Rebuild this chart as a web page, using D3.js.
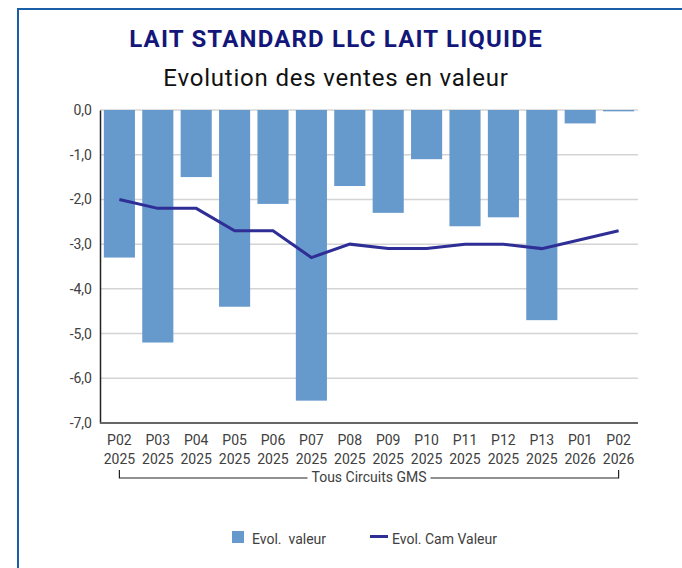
<!DOCTYPE html>
<html>
<head>
<meta charset="utf-8">
<script src="https://cdn.jsdelivr.net/npm/d3@7"></script>
<style>
  body { margin: 0; background: #fff; }
  svg { display: block; }
</style>
</head>
<body>
<svg id="chart" width="682" height="568"></svg>
<script>
var periods = ["P02", "P03", "P04", "P05", "P06", "P07", "P08", "P09", "P10", "P11", "P12", "P13", "P01", "P02"];
var years = ["2025", "2025", "2025", "2025", "2025", "2025", "2025", "2025", "2025", "2025", "2025", "2025", "2026", "2026"];
var evolValeur = [-3.3, -5.2, -1.5, -4.4, -2.1, -6.5, -1.7, -2.3, -1.1, -2.6, -2.4, -4.7, -0.3, -0.03];
var evolCam = [-2.0, -2.2, -2.2, -2.7, -2.7, -3.3, -3.0, -3.1, -3.1, -3.0, -3.0, -3.1, -2.9, -2.7];
var yTicks = [0, -1, -2, -3, -4, -5, -6, -7];

var font = "Roboto, 'Noto Sans', sans-serif";
var barColor = "#6699cc";
var lineColor = "#2e2e96";

var svg = d3.select("#chart");
var keys = d3.range(periods.length);

var x = d3.scaleBand().domain(keys).range([100, 638]).paddingInner(0.19).paddingOuter(0.1);
var y = d3.scaleLinear().domain([-7, 0]).range([423, 110]);

// frame
svg.append("line").attr("x1", 18).attr("x2", 682).attr("y1", 9).attr("y2", 9)
    .attr("stroke", "#1a5ea8").attr("stroke-width", 2);
svg.append("line").attr("x1", 18).attr("x2", 18).attr("y1", 8).attr("y2", 568)
    .attr("stroke", "#1a5ea8").attr("stroke-width", 2);

// titles
svg.append("text").attr("x", 336).attr("y", 47).attr("text-anchor", "middle")
    .attr("font-family", font)
    .attr("font-weight", "bold").attr("font-size", 24).attr("letter-spacing", 1.2).attr("fill", "#14177a")
    .text("LAIT STANDARD LLC LAIT LIQUIDE");
svg.append("text").attr("x", 336).attr("y", 86).attr("text-anchor", "middle")
    .attr("font-family", font).attr("font-size", 24).attr("letter-spacing", 0.8).attr("fill", "#111")
    .text("Evolution des ventes en valeur");

// grid
svg.append("g").selectAll("line").data(yTicks.filter(function (d) { return d > -7; })).join("line")
    .attr("x1", 100).attr("x2", 638)
    .attr("y1", function (d) { return y(d); }).attr("y2", function (d) { return y(d); })
    .attr("stroke", "#d4d4d4").attr("stroke-width", 1.5);

// y axis
var fmt = function (d) { return d3.format(".1f")(d).replace(".", ",").replace("−", "-"); };
var yAxis = svg.append("g").attr("transform", "translate(100,0)")
    .call(d3.axisLeft(y).tickValues(yTicks).tickFormat(fmt).tickSize(0).tickPadding(8));
yAxis.select(".domain").attr("stroke", "#222").attr("stroke-width", 1.5);
yAxis.selectAll("text").attr("font-family", font).attr("font-size", 14).attr("fill", "#404040");

// bars
svg.append("g").selectAll("rect").data(evolValeur).join("rect")
    .attr("x", function (d, i) { return x(i); })
    .attr("width", x.bandwidth())
    .attr("y", y(0))
    .attr("height", function (d) { return y(d) - y(0); })
    .attr("fill", barColor);

// x axis line
svg.append("line").attr("x1", 100).attr("x2", 638).attr("y1", y(-7)).attr("y2", y(-7))
    .attr("stroke", "#666").attr("stroke-width", 2);

// line
var line = d3.line()
    .x(function (d, i) { return x(i) + x.bandwidth() / 2; })
    .y(function (d) { return y(d); });
svg.append("path").datum(evolCam).attr("d", line)
    .attr("fill", "none").attr("stroke", lineColor).attr("stroke-width", 3);

// x labels
var xl = svg.append("g").selectAll("text").data(keys).join("text")
    .attr("x", function (i) { return x(i) + x.bandwidth() / 2; })
    .attr("text-anchor", "middle")
    .attr("font-family", font).attr("font-size", 14).attr("fill", "#404040");
xl.append("tspan").attr("x", function (i) { return x(i) + x.bandwidth() / 2; }).attr("y", 445)
    .text(function (i) { return periods[i]; });
xl.append("tspan").attr("x", function (i) { return x(i) + x.bandwidth() / 2; }).attr("y", 464)
    .text(function (i) { return years[i]; });

// group bracket
var gx0 = x(0) + x.bandwidth() / 2, gx1 = x(keys.length - 1) + x.bandwidth() / 2;
var gText = svg.append("text").attr("x", (gx0 + gx1) / 2).attr("y", 482).attr("text-anchor", "middle")
    .attr("font-family", font).attr("font-size", 14).attr("fill", "#404040")
    .text("Tous Circuits GMS");
var tw = gText.node().getComputedTextLength();
var mid = (gx0 + gx1) / 2;
svg.append("path")
    .attr("d", "M" + gx0 + ",470V478H" + (mid - tw / 2 - 4) + "M" + (mid + tw / 2 + 4) + ",478H" + gx1 + "V470")
    .attr("fill", "none").attr("stroke", "#222").attr("stroke-width", 1.2);

// legend
var lg = svg.append("g").attr("font-family", font).attr("font-size", 14).attr("fill", "#404040");
lg.append("rect").attr("x", 232).attr("y", 531).attr("width", 12).attr("height", 12).attr("fill", barColor);
lg.append("text").attr("x", 252).attr("y", 544).attr("xml:space", "preserve").text("Evol.  valeur");
lg.append("line").attr("x1", 370).attr("x2", 388).attr("y1", 536.5).attr("y2", 536.5)
    .attr("stroke", lineColor).attr("stroke-width", 3);
lg.append("text").attr("x", 392).attr("y", 544).text("Evol. Cam Valeur");
</script>
</body>
</html>
